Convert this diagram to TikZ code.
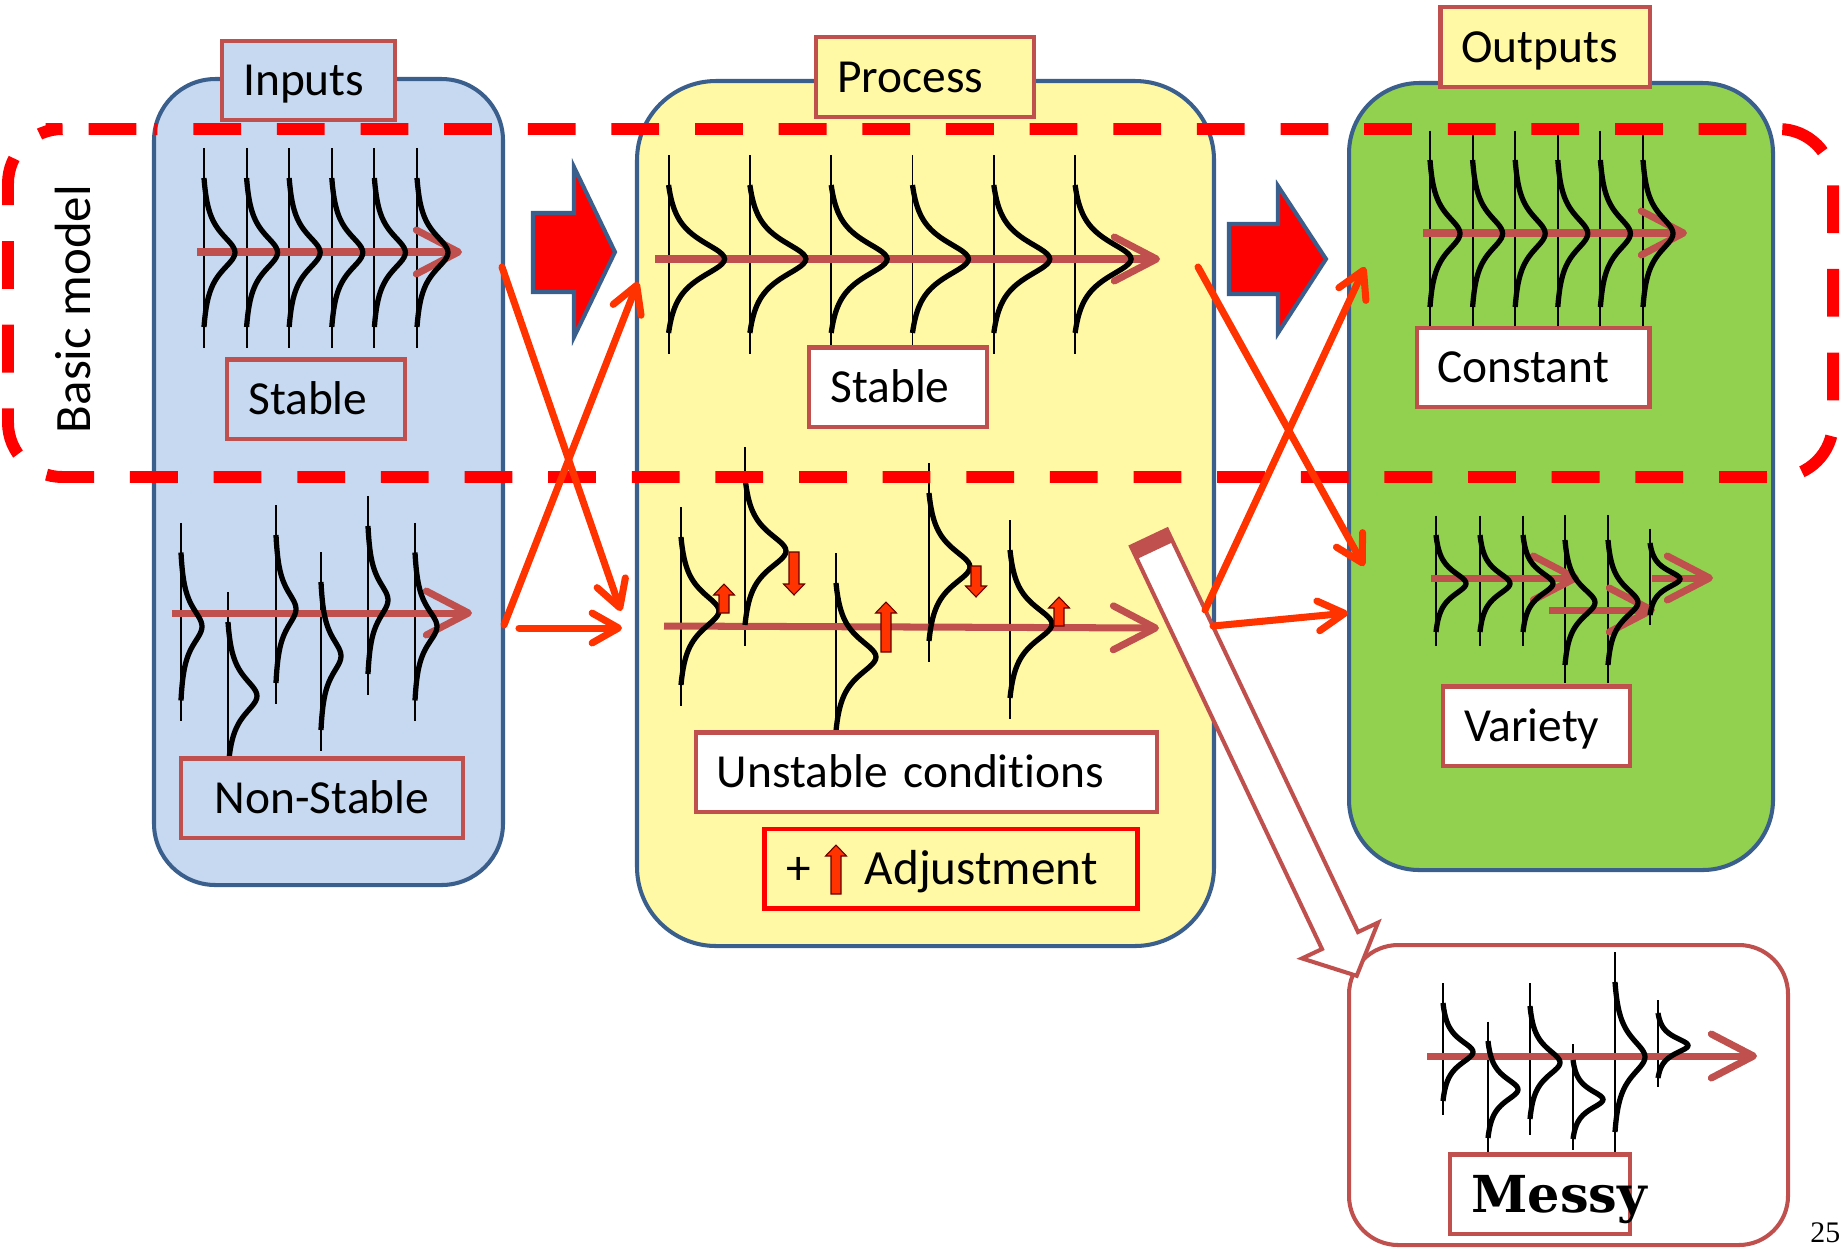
\documentclass[tikz,border=0pt]{standalone}
\usepackage{fontspec}
\setmainfont{Carlito}[Ligatures=CommonOff]
\newfontfamily\messyfont{DejaVu Serif}
\newfontfamily\pagefont{Liberation Serif}
\usetikzlibrary{arrows.meta}

\definecolor{inblue}{HTML}{C6D9F1}
\definecolor{procyellow}{HTML}{FFF9A5}
\definecolor{outgreen}{HTML}{92D050}
\definecolor{boxedge}{HTML}{3B5F8C}
\definecolor{tagred}{HTML}{C0504D}
\definecolor{flowred}{HTML}{FF3300}

\tikzset{
  container/.style={draw=boxedge, line width=2.3pt},
  tag/.style={draw=tagred, line width=2.3pt, inner xsep=11.9pt, inner ysep=0pt,
    minimum height=45pt, text height=17.6pt, text depth=0pt, align=left,
    font=\fontsize{27}{32}\selectfont},
  axisline/.style={black, line width=1.1pt},
  bellline/.style={black, line width=3pt},
  trendline/.style={tagred, line width=4pt,
    -{Straight Barb[length=24pt, width=25pt, round]}},
  flow/.style={flowred, line width=4pt, line cap=round,
    -{Straight Barb[length=15pt, width=17pt, round]}},
  bigarrow/.style={fill=red, draw=boxedge, line width=2.3pt},
  shiftarrow/.style={fill=flowred, draw=black!60!red, line width=0.6pt},
  basic/.style={red, line width=6.8pt, dash pattern=on 27.2pt off 20.4pt, dash phase=25.5pt},
}

% one distribution: axis, then bell curve
\newcommand\distaxis[3]{\draw[axisline] ({#1},{#2-1.4*#3}) -- ({#1},{#2+1.28*#3});}
\newcommand\distcurve[4]{\draw[bellline] plot[variable=\t, domain=-1:1, samples=61, smooth]
  ({#1+#3*(1/(1+(\t/0.32)*(\t/0.32))-0.093)/0.907}, {#2+#4*(\t)});}
% small adjustment arrow: x, base, tip
\newcommand\shiftarr[3]{%
  \pgfmathsetmacro\hb{#3+11*sign(#2-#3)}
  \draw[shiftarrow] ({#1-5},#2) -- ({#1+5},#2) -- ({#1+5},\hb) -- ({#1+10.5},\hb)
    -- (#1,#3) -- ({#1-10.5},\hb) -- ({#1-5},\hb) -- cycle;}

\begin{document}
\begin{tikzpicture}[x=0.02cm, y=-0.02cm]
\useasboundingbox (0,0) rectangle (1848,1249);

% containers
\draw[container, fill=inblue, rounded corners=35pt] (154,79) rectangle (503,885);
\draw[container, fill=procyellow, rounded corners=45pt] (637,81) rectangle (1214,946);
\draw[container, fill=outgreen, rounded corners=40pt] (1349,83) rectangle (1773,870);
\draw[tagred, line width=2.3pt, fill=white, rounded corners=28pt] (1349,945) rectangle (1788,1245);

% block arrows
\draw[bigarrow] (533,213) -- (574,213) -- (574,167) -- (615,252) -- (574,337) -- (574,292) -- (533,292) -- cycle;
\draw[bigarrow] (1229,224) -- (1278,224) -- (1278,186) -- (1326,259) -- (1278,333) -- (1278,294) -- (1229,294) -- cycle;

% inputs: stable
\foreach \k in {0,...,5} {\distaxis{204+42.6*\k}{252.5}{74.5}}
\draw[trendline] (197,252) -- (462,252);
\foreach \k in {0,...,5} {\distcurve{204+42.6*\k}{252.5}{31}{74.5}}
\node[tag, fill=inblue, text width=77.1pt] (in-stable) at (316,399) {Stable};

% inputs: non-stable
\foreach \cx/\cy in {181/626.5, 228/696, 276/609, 321/656, 368/600, 415/626.5} {\distaxis{\cx}{\cy}{74}}
\draw[trendline] (172,613) -- (472,613);
\foreach \cx/\cy/\amp in {181/626.5/21, 228/696/29, 276/609/20, 321/656/20, 368/600/20, 415/626.5/22} {\distcurve{\cx}{\cy}{\amp}{74}}
\node[tag, fill=inblue, text width=137.2pt, align=center] (in-nonstable) at (322,798) {Non-Stable};

% process: stable
\foreach \k in {0,...,5} {\distaxis{668.6+81.3*\k}{259}{74}}
\draw[trendline] (655,259) -- (1160,259);
\foreach \k in {0,...,5} {\distcurve{668.6+81.3*\k}{259}{56}{74}}
\node[tag, fill=white, text width=77.1pt] (pr-stable) at (898,387) {Stable};

% process: unstable
\foreach \cx/\cy in {681/611, 745/551, 836/657, 929/567, 1010/624} {\distaxis{\cx}{\cy}{74}}
\draw[trendline] (664,626) -- (1159,628);
\foreach \cx/\cy/\amp in {681/611/38, 745/551/41, 836/657/40, 929/567/41, 1010/624/42} {\distcurve{\cx}{\cy}{\amp}{74}}
\shiftarr{724}{613}{584}
\shiftarr{794}{552}{595}
\shiftarr{886}{652}{602}
\shiftarr{976}{566}{597}
\shiftarr{1059}{626}{597}
\node[tag, fill=white, text width=238.7pt] (pr-unstable) at (926.5,772) {Unstable conditions};
\node[tag, draw=red, line width=2.8pt, inner xsep=12.5pt, text width=187.1pt, text height=18.3pt,
  font=\fontsize{28}{33}\selectfont] (pr-adjust) at (951,868.5) {+\hspace{30.6pt}Adjustment};
\shiftarr{836}{894}{845}

% outputs: constant
\foreach \k in {0,...,5} {\distaxis{1430+42.6*\k}{233.5}{73.5}}
\draw[trendline] (1423,233) -- (1687,233);
\foreach \k in {0,...,5} {\distcurve{1430+42.6*\k}{233.5}{30}{73.5}}
\node[tag, fill=white, text width=108.8pt] (out-constant) at (1533,367.5) {Constant};

% outputs: variety
\foreach \cx/\cy/\h in {1436/583.5/48.5, 1480/583.5/48.5, 1523/583.5/48.5, 1565/602.5/62.5, 1608/602.5/62.5, 1650/579/36} {\distaxis{\cx}{\cy}{\h}}
\draw[trendline] (1431,578) -- (1579,578);
\draw[trendline] (1549,610) -- (1655,610);
\draw[trendline] (1652,578) -- (1713,578);
\foreach \cx/\cy/\h in {1436/583.5/48.5, 1480/583.5/48.5, 1523/583.5/48.5, 1565/602.5/62.5, 1608/602.5/62.5, 1650/579/36} {\distcurve{\cx}{\cy}{30}{\h}}
\node[tag, fill=white, text width=82.2pt] (out-variety) at (1536.5,726) {Variety};

% messy
\foreach \cx/\cy/\h in {1443/1052/49, 1488/1089.5/48.5, 1530/1062.5/56.5, 1573/1099.5/39.5, 1615/1057/75, 1658/1045.5/32.5} {\distaxis{\cx}{\cy}{\h}}
\draw[trendline] (1427,1056) -- (1757,1056);
\foreach \cx/\cy/\h in {1443/1052/49, 1488/1089.5/48.5, 1530/1062.5/56.5, 1573/1099.5/39.5, 1615/1057/75, 1658/1045.5/32.5} {\distcurve{\cx}{\cy}{30}{\h}}
\node[tag, fill=white, text width=78.2pt, text height=21pt,
  font=\messyfont\bfseries\fontsize{29}{33}\selectfont] (out-messy) at (1540,1194) {\mbox{Messy}};

% titles
\node[tag, fill=inblue, text width=74.3pt] (inputs) at (308.5,80.5) {Inputs};
\node[tag, fill=procyellow, text width=99.8pt] (process) at (925,77) {Process};
\node[tag, fill=procyellow, text width=95.2pt] (outputs) at (1545,47) {Outputs};

% arrow to messy
\draw[tagred, line width=2.3pt, fill=white] (1131,546.5) -- (1322,949) -- (1302,958.4) -- (1356.7,975.8)
  -- (1378,922.6) -- (1358,932) -- (1167,529.5) -- cycle;
\fill[tagred] (1131,546.5) -- (1167,529.5) -- (1173,542) -- (1137,559) -- cycle;

% basic model
\draw[basic, rounded corners=31pt] (100,129) -- (1833,129) -- (1833,477) -- (8,477) -- (8,129) -- cycle;
\node[rotate=90, anchor=base, font=\fontsize{29}{34}\selectfont] (basic-model) at (90,309) {Basic model};

% flows
\coordinate (in-stable-out) at (502,267);
\coordinate (in-nonstable-out) at (504,625);
\coordinate (in-nonstable-side) at (519,628);
\coordinate (pr-stable-in) at (638,282);
\coordinate (pr-unstable-in) at (621,611);
\coordinate (pr-unstable-side) at (622,628);
\coordinate (pr-stable-out) at (1198,267);
\coordinate (pr-unstable-out) at (1205,610);
\coordinate (pr-unstable-low) at (1213,626);
\coordinate (out-constant-in) at (1365,267);
\coordinate (out-variety-in) at (1364,566);
\coordinate (out-variety-side) at (1348,613);
\draw[flow] (in-stable-out) -- (pr-unstable-in);
\draw[flow] (in-nonstable-out) -- (pr-stable-in);
\draw[flow] (in-nonstable-side) -- (pr-unstable-side);
\draw[flow] (pr-stable-out) -- (out-variety-in);
\draw[flow] (pr-unstable-out) -- (out-constant-in);
\draw[flow] (pr-unstable-low) -- (out-variety-side);

\node[anchor=base west, inner sep=0pt, font=\pagefont\fontsize{17}{20}\selectfont] (page-num) at (1810,1242) {25};
\end{tikzpicture}
\end{document}
